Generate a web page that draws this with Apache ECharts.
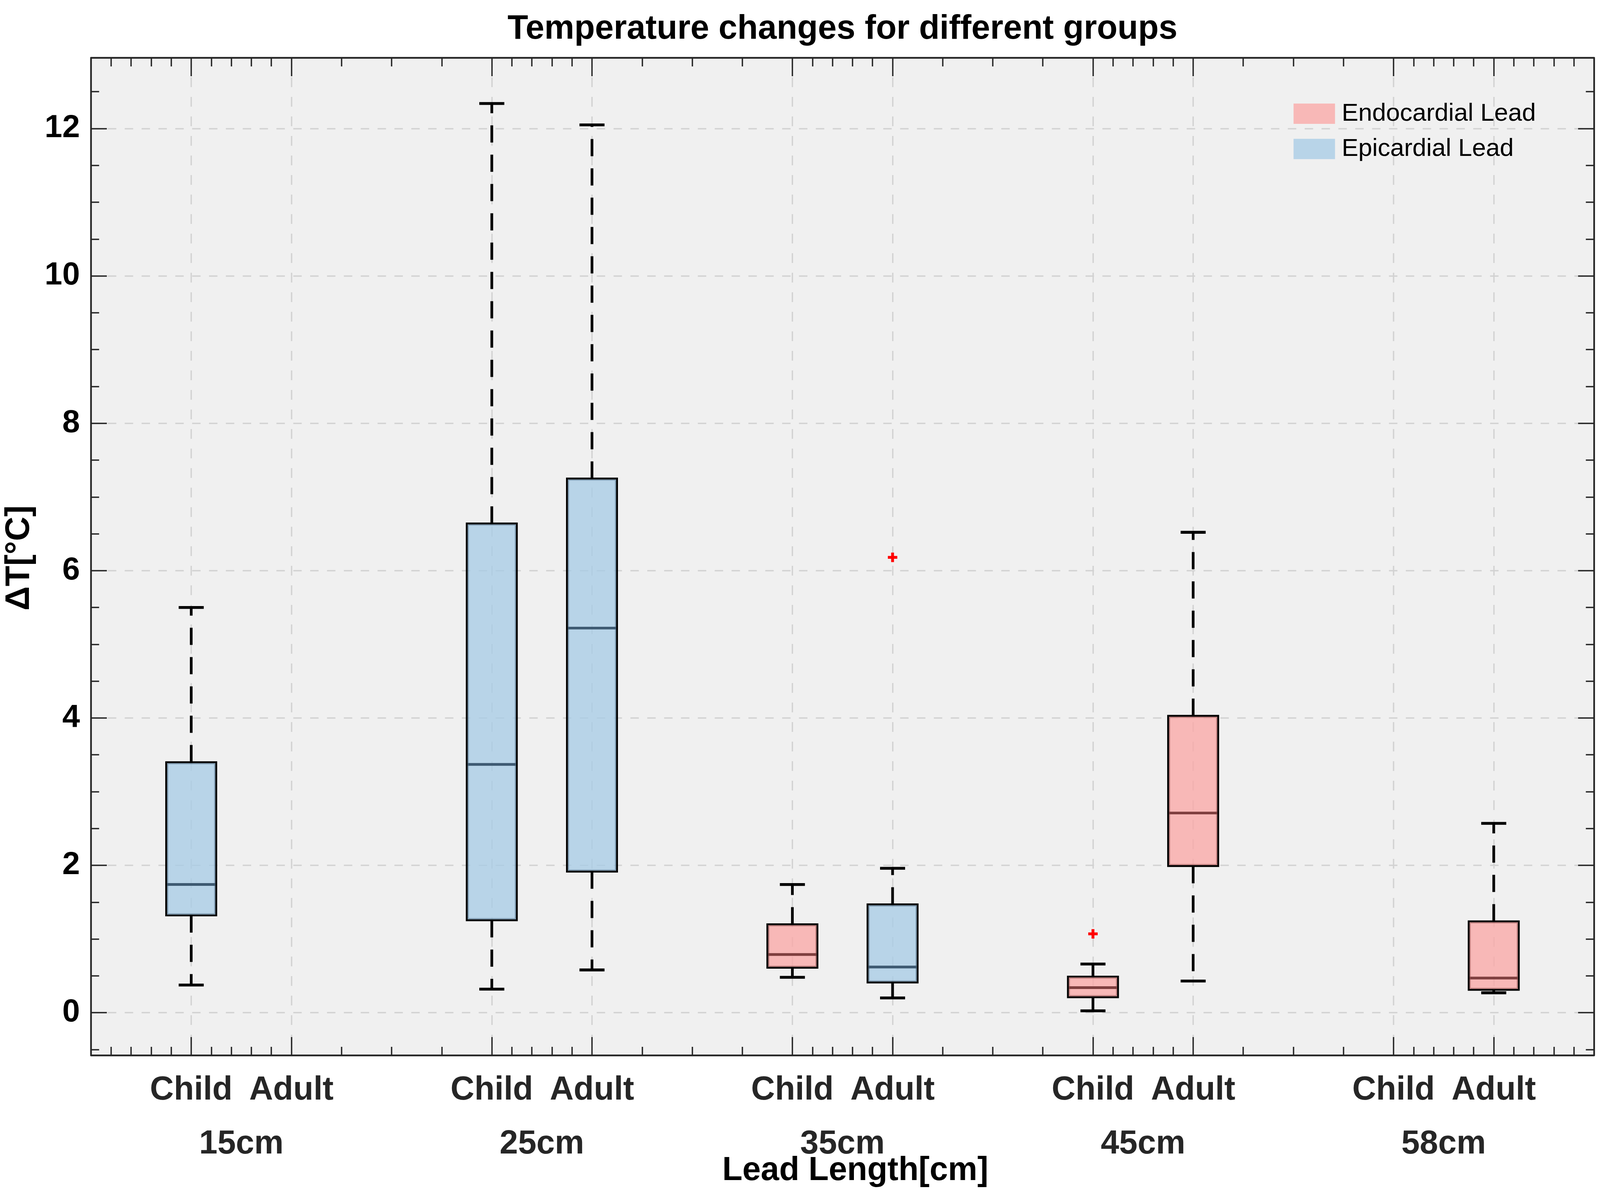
<!DOCTYPE html>
<html>
<head>
<meta charset="utf-8">
<script src="https://cdn.jsdelivr.net/npm/echarts@6/dist/echarts.min.js"></script>
<style>
html,body{margin:0;padding:0;background:#ffffff;overflow:hidden;width:100%;height:100%;}
#chart{width:100vw;height:100vh;}
</style>
</head>
<body>
<div id="chart"></div>
<script>
// ---------------- data ----------------
const groups = ['15cm', '25cm', '35cm', '45cm', '58cm'];
const roles = ['Child', 'Adult'];
const leadTypes = ['Endocardial Lead', 'Epicardial Lead'];
const yTickValues = [0, 2, 4, 6, 8, 10, 12];

// one entry per box
const boxGroup = [0, 1, 1, 2, 2, 3, 3, 4];
const boxRole  = [0, 0, 1, 0, 1, 0, 1, 1];
const boxLead  = [1, 1, 1, 0, 1, 0, 0, 0];
const boxLow   = [0.375, 0.32, 0.58, 0.48, 0.20, 0.025, 0.43, 0.27];
const boxQ1    = [1.32, 1.255, 1.915, 0.61, 0.41, 0.21, 1.99, 0.31];
const boxMed   = [1.74, 3.37, 5.22, 0.79, 0.62, 0.34, 2.71, 0.47];
const boxQ3    = [3.40, 6.64, 7.25, 1.20, 1.47, 0.49, 4.03, 1.24];
const boxHigh  = [5.50, 12.34, 12.05, 1.74, 1.96, 0.66, 6.52, 2.57];

// outliers: which box they belong to and value
const outlierBox   = [4, 5];
const outlierValue = [6.18, 1.07];

// ---------------- scaling to the actual viewport ----------------
const el = document.getElementById('chart');
const W = el.clientWidth || window.innerWidth;
const H = el.clientHeight || window.innerHeight;
const SX = W / 4746, SY = H / 3071, S = Math.min(SX, SY);
const k = v => v * S;
const px = v => v * SX;
const py = v => v * SY;

// ---------------- helpers ----------------
const FONT = '"Liberation Sans", Arial, Helvetica, sans-serif';
const AXIS_COLOR = '#262626';
const slotPos = (g, r) => g * 3 + r + 1;

const xMajor = [];
groups.forEach((g, gi) => roles.forEach((r, ri) => xMajor.push(slotPos(gi, ri))));
const groupCenters = groups.map((g, gi) => slotPos(gi, 0) + 0.5);

// minor ticks (MATLAB style): 0.2 step within spans of 1, 0.5 step within spans of 2
const xMinor = [];
const xBounds = [0].concat(xMajor, [15]);
for (let i = 0; i < xBounds.length - 1; i++) {
  const a = xBounds[i], b = xBounds[i + 1];
  const step = (b - a) > 1.5 ? 0.5 : 0.2;
  for (let v = a + step; v < b - 1e-6; v += step) xMinor.push(Math.round(v * 100) / 100);
}
const yMinor = [];
for (let i = -1; i <= 25; i++) {
  const v = i * 0.5;
  if (Math.abs(v % 2) > 1e-9) yMinor.push(v);
}

const fillColor   = ['rgba(251,165,164,0.75)', 'rgba(165,203,229,0.75)'];
const legendColor = ['#F8B8B7', '#B8D4E8'];
const medianColor = ['#7F3F3F', '#3E5A72'];

function seriesData(lead) {
  const out = [];
  for (let i = 0; i < boxGroup.length; i++) {
    if (boxLead[i] !== lead) continue;
    out.push([slotPos(boxGroup[i], boxRole[i]), boxLow[i], boxQ1[i], boxMed[i], boxQ3[i], boxHigh[i], lead]);
  }
  return out;
}

function renderBox(params, api) {
  const x = api.value(0);
  const lead = api.value(6);
  const pLo = api.coord([x, api.value(1)]);
  const pQ1 = api.coord([x, api.value(2)]);
  const pMd = api.coord([x, api.value(3)]);
  const pQ3 = api.coord([x, api.value(4)]);
  const pHi = api.coord([x, api.value(5)]);
  const bw = api.size([0.5, 0])[0];
  const cw = api.size([0.25, 0])[0];
  const cx = pQ1[0];
  const dash = {stroke: '#000', lineWidth: k(8), lineDash: [py(44), py(31)]};
  const solid = {stroke: '#000', lineWidth: k(8.5)};
  const inset = k(4.5);
  return {
    type: 'group',
    children: [
      {type: 'line', shape: {x1: cx, y1: pQ3[1], x2: cx, y2: pHi[1]}, style: dash},
      {type: 'line', shape: {x1: cx, y1: pQ1[1], x2: cx, y2: pLo[1]}, style: dash},
      {type: 'line', shape: {x1: cx - cw / 2, y1: pHi[1], x2: cx + cw / 2, y2: pHi[1]}, style: solid},
      {type: 'line', shape: {x1: cx - cw / 2, y1: pLo[1], x2: cx + cw / 2, y2: pLo[1]}, style: solid},
      {type: 'rect', shape: {x: cx - bw / 2, y: pQ3[1], width: bw, height: pQ1[1] - pQ3[1]},
        style: {fill: fillColor[lead], stroke: '#000', lineWidth: k(5.5)}},
      {type: 'rect', shape: {x: cx - bw / 2 + inset, y: pQ3[1] + inset, width: bw - 2 * inset,
          height: Math.max(0, pQ1[1] - pQ3[1] - 2 * inset)},
        style: {fill: null, stroke: medianColor[lead], lineWidth: k(3), opacity: 0.5}},
      {type: 'line', shape: {x1: cx - bw / 2 + k(3), y1: pMd[1], x2: cx + bw / 2 - k(3), y2: pMd[1]},
        style: {stroke: medianColor[lead], lineWidth: k(8)}}
    ]
  };
}

// ---------------- axes ----------------
const hiddenBits = {
  splitLine: {show: false},
  minorTick: {show: false},
  minorSplitLine: {show: false},
  axisPointer: {show: false},
  silent: true
};
const tickStyle = {color: AXIS_COLOR, width: k(4)};
const lineStyleAxis = {color: AXIS_COLOR, width: k(5)};
const gridDashV = {color: '#d2d2d2', width: k(4), type: [py(25), py(25)]};
const gridDashH = {color: '#d2d2d2', width: k(4), type: [px(25), px(25)]};

function xAx(position, opts) {
  return Object.assign({
    type: 'value', min: 0, max: 15, position: position, gridIndex: 0,
    axisLine: {show: false, onZero: false},
    axisTick: {show: false},
    axisLabel: {show: false}
  }, hiddenBits, opts);
}
function yAx(position, opts) {
  return Object.assign({
    type: 'value', min: -0.58, max: 12.96, position: position, gridIndex: 0,
    axisLine: {show: false, onZero: false},
    axisTick: {show: false},
    axisLabel: {show: false}
  }, hiddenBits, opts);
}

const labelFont = 98;
const xAxes = [
  xAx('bottom', {
    axisLine: {show: true, onZero: false, lineStyle: lineStyleAxis},
    axisTick: {show: true, inside: true, length: py(47), lineStyle: tickStyle, customValues: xMajor},
    axisLabel: {show: true, customValues: xMajor, margin: py(89) - k(labelFont / 2), color: AXIS_COLOR,
      fontSize: k(labelFont), fontWeight: 'bold', fontFamily: FONT,
      formatter: v => roles[(Math.round(v) - 1) % 3]},
    splitLine: {show: true, lineStyle: gridDashV}
  }),
  xAx('bottom', {axisTick: {show: true, inside: true, length: py(22), lineStyle: tickStyle, customValues: xMinor}}),
  xAx('bottom', {
    axisLabel: {show: true, customValues: groupCenters, margin: py(227) - k(labelFont / 2), color: AXIS_COLOR,
      fontSize: k(labelFont), fontWeight: 'bold', fontFamily: FONT,
      formatter: v => groups[Math.round((v - 1.5) / 3)]}
  }),
  xAx('top', {
    axisLine: {show: true, onZero: false, lineStyle: lineStyleAxis},
    axisTick: {show: true, inside: true, length: py(47), lineStyle: tickStyle, customValues: xMajor}
  }),
  xAx('top', {axisTick: {show: true, inside: true, length: py(22), lineStyle: tickStyle, customValues: xMinor}})
];

const yAxes = [
  yAx('left', {
    axisLine: {show: true, onZero: false, lineStyle: lineStyleAxis},
    axisTick: {show: true, inside: true, length: px(47), lineStyle: tickStyle, customValues: yTickValues},
    axisLabel: {show: true, customValues: yTickValues, margin: px(33), color: '#000',
      fontSize: k(94), fontWeight: 'bold', fontFamily: FONT},
    splitLine: {show: true, lineStyle: gridDashH}
  }),
  yAx('left', {axisTick: {show: true, inside: true, length: px(24), lineStyle: tickStyle, customValues: yMinor}}),
  yAx('right', {
    axisLine: {show: true, onZero: false, lineStyle: lineStyleAxis},
    axisTick: {show: true, inside: true, length: px(47), lineStyle: tickStyle, customValues: yTickValues}
  }),
  yAx('right', {axisTick: {show: true, inside: true, length: px(24), lineStyle: tickStyle, customValues: yMinor}})
];

// ---------------- chart ----------------
const chart = echarts.init(el, null, {renderer: 'canvas'});

const legendRow = Math.max(k(74), py(52));
const option = {
  animation: false,
  backgroundColor: '#ffffff',
  grid: {
    left: px(270), right: px(18), top: py(148), bottom: py(370),
    show: true, backgroundColor: '#f0f0f0', borderWidth: 0,
    containLabel: false, outerBoundsMode: 'none'
  },
  legend: {
    orient: 'vertical', left: px(3837), top: py(291) - legendRow / 2, padding: 0,
    itemGap: py(90) - legendRow, itemWidth: px(123), itemHeight: py(52), icon: 'rect',
    selectedMode: false,
    textStyle: {fontSize: k(74), fontFamily: FONT, color: '#000', padding: [0, 0, 0, px(14)]},
    data: leadTypes.map((n, i) => ({name: n, icon: 'rect', itemStyle: {color: legendColor[i], borderWidth: 0, opacity: 1}}))
  },
  xAxis: xAxes,
  yAxis: yAxes,
  graphic: [
    {type: 'text', x: px(2499), y: py(75), silent: true,
      style: {text: 'Temperature changes for different groups', fill: '#000',
        font: 'bold ' + k(100) + 'px ' + FONT, align: 'center', verticalAlign: 'middle',
        textAlign: 'center', textVerticalAlign: 'middle'}},
    {type: 'text', x: px(2537), y: py(2997), silent: true,
      style: {text: 'Lead Length[cm]', fill: '#000',
        font: 'bold ' + k(98) + 'px ' + FONT, align: 'center', verticalAlign: 'middle',
        textAlign: 'center', textVerticalAlign: 'middle'}},
    {type: 'text', x: px(58), y: py(1428), rotation: Math.PI / 2, silent: true,
      style: {text: 'ΔT[°C]', fill: '#000',
        font: 'bold ' + k(100) + 'px ' + FONT, align: 'center', verticalAlign: 'middle',
        textAlign: 'center', textVerticalAlign: 'middle'}}
  ],
  series: leadTypes.map((name, li) => ({
    name: name,
    type: 'custom',
    xAxisIndex: 0, yAxisIndex: 0,
    renderItem: renderBox,
    itemStyle: {color: legendColor[li]},
    encode: {x: 0, y: [1, 2, 3, 4, 5]},
    data: seriesData(li),
    silent: true,
    z: 3
  })).concat([{
    name: 'Outliers',
    type: 'scatter',
    xAxisIndex: 0, yAxisIndex: 0,
    symbol: 'path://M3.5,0H6.5V3.5H10V6.5H6.5V10H3.5V6.5H0V3.5H3.5Z',
    symbolSize: k(28),
    itemStyle: {color: '#ff0000', opacity: 1},
    data: outlierBox.map((b, i) => [slotPos(boxGroup[b], boxRole[b]), outlierValue[i]]),
    silent: true,
    z: 4
  }])
};
chart.setOption(option);
</script>
</body>
</html>
